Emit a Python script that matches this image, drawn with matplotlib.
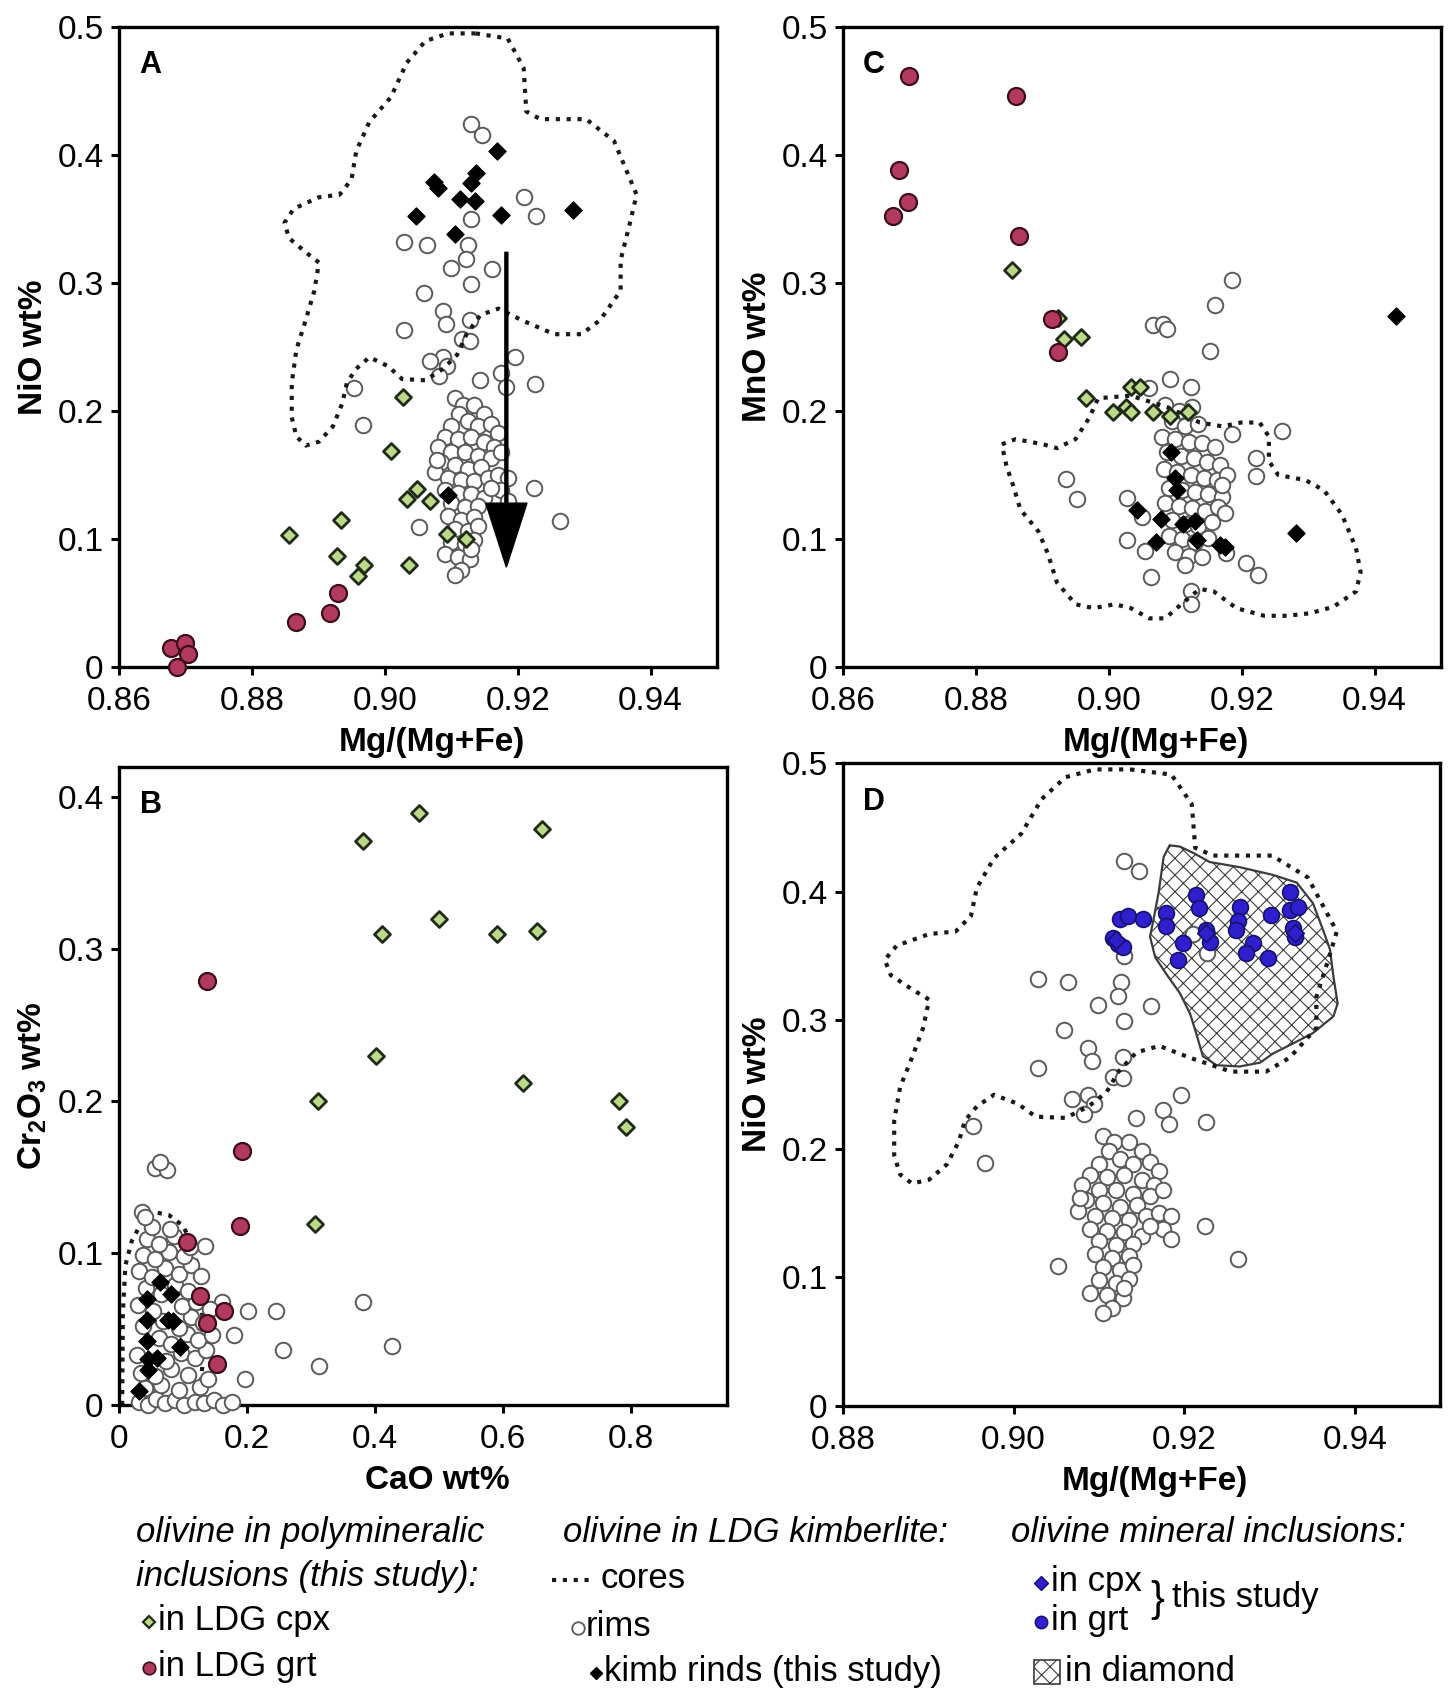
import matplotlib.pyplot as plt
from matplotlib.patches import Polygon, Rectangle
from matplotlib.lines import Line2D

plt.rcParams['font.family'] = ['Liberation Sans', 'DejaVu Sans']
plt.rcParams['mathtext.fontset'] = 'custom'
plt.rcParams['mathtext.rm'] = 'Liberation Sans'
plt.rcParams['mathtext.bf'] = 'Liberation Sans:bold'
plt.rcParams['hatch.linewidth'] = 0.8

# ---------------- data ----------------
# LDG kimberlite olivine rims: Mg# and NiO (panels A and D)
rim_mg = [0.9130, 0.9147, 0.9210, 0.9227, 0.9130, 0.9029, 0.9064, 0.9126, 0.9122, 0.9099,
          0.9161, 0.9130, 0.9059, 0.9087, 0.9092, 0.9128, 0.9029, 0.9116, 0.9128, 0.9087,
          0.9068, 0.9094, 0.9082, 0.9144, 0.9196, 0.9175, 0.9182, 0.9226, 0.8953, 0.8967,
          0.9225, 0.9263, 0.9052,
          0.9105, 0.9118, 0.9112, 0.9135, 0.9150, 0.9125, 0.9100, 0.9140, 0.9160, 0.9170,
          0.9090, 0.9110, 0.9130, 0.9150, 0.9165, 0.9080, 0.9100, 0.9120, 0.9140, 0.9160,
          0.9175, 0.9085, 0.9105, 0.9125, 0.9145, 0.9075, 0.9095, 0.9115, 0.9135, 0.9155,
          0.9170, 0.9185, 0.9090, 0.9110, 0.9130, 0.9150, 0.9175, 0.9185, 0.9100, 0.9120,
          0.9140, 0.9095, 0.9115, 0.9135, 0.9105, 0.9125, 0.9140, 0.9100, 0.9120, 0.9135,
          0.9090, 0.9110, 0.9128, 0.9115, 0.9105, 0.9130, 0.9078, 0.9160]
rim_nio = [0.424, 0.416, 0.367, 0.352, 0.350, 0.332, 0.330, 0.330, 0.319, 0.312,
           0.311, 0.299, 0.292, 0.278, 0.268, 0.271, 0.263, 0.256, 0.255, 0.242,
           0.239, 0.235, 0.227, 0.224, 0.242, 0.230, 0.219, 0.221, 0.218, 0.189,
           0.140, 0.114, 0.109,
           0.210, 0.205, 0.198, 0.205, 0.198, 0.192, 0.188, 0.188, 0.190, 0.183,
           0.180, 0.178, 0.180, 0.176, 0.172, 0.172, 0.168, 0.168, 0.165, 0.163,
           0.168, 0.160, 0.158, 0.155, 0.156, 0.152, 0.148, 0.146, 0.145, 0.148,
           0.150, 0.148, 0.138, 0.136, 0.135, 0.132, 0.138, 0.130, 0.128, 0.125,
           0.126, 0.118, 0.115, 0.117, 0.108, 0.106, 0.110, 0.098, 0.096, 0.099,
           0.088, 0.086, 0.084, 0.076, 0.072, 0.092, 0.162, 0.140]

# rims: Mg# and MnO (panel C)
rim_mg_c = [0.9185, 0.9160, 0.9067, 0.9081, 0.9087, 0.9152, 0.9092, 0.9123, 0.9061, 0.9261,
            0.9185, 0.9222, 0.9222, 0.8936, 0.8952, 0.9027, 0.9050, 0.9027, 0.9054, 0.9064,
            0.9207, 0.9225, 0.9123, 0.9123, 0.9176,
            0.9085, 0.9105, 0.9125, 0.9095, 0.9115, 0.9135, 0.9080, 0.9100, 0.9120, 0.9140,
            0.9160, 0.9088, 0.9108, 0.9128, 0.9148, 0.9168, 0.9083, 0.9103, 0.9123, 0.9143,
            0.9163, 0.9178, 0.9090, 0.9110, 0.9130, 0.9150, 0.9170, 0.9085, 0.9105, 0.9125,
            0.9145, 0.9165, 0.9095, 0.9115, 0.9135, 0.9155, 0.9090, 0.9110, 0.9130, 0.9150,
            0.9100, 0.9120, 0.9140, 0.9115, 0.9175, 0.9170]
rim_mno = [0.302, 0.283, 0.267, 0.268, 0.264, 0.247, 0.225, 0.219, 0.218, 0.184,
           0.182, 0.163, 0.149, 0.147, 0.131, 0.132, 0.117, 0.099, 0.091, 0.070,
           0.081, 0.072, 0.059, 0.049, 0.089,
           0.205, 0.200, 0.203, 0.192, 0.188, 0.190, 0.180, 0.178, 0.176, 0.175,
           0.172, 0.168, 0.165, 0.163, 0.160, 0.158, 0.155, 0.152, 0.150, 0.148,
           0.146, 0.150, 0.140, 0.138, 0.137, 0.135, 0.133, 0.128, 0.126, 0.124,
           0.122, 0.125, 0.115, 0.112, 0.110, 0.113, 0.102, 0.100, 0.098, 0.101,
           0.090, 0.087, 0.086, 0.080, 0.120, 0.142]

# rims: CaO and Cr2O3 (panel B)
rim_cao = [0.056, 0.075, 0.064, 0.036, 0.135, 0.202, 0.246, 0.257, 0.197, 0.179, 0.161, 0.381, 0.427, 0.312,
           0.032, 0.046, 0.058, 0.072, 0.088, 0.101, 0.118, 0.133, 0.148, 0.163, 0.176,
           0.041, 0.066, 0.094, 0.127,
           0.034, 0.057, 0.082, 0.108, 0.139,
           0.028, 0.074, 0.097, 0.118, 0.136,
           0.062, 0.081, 0.106, 0.124, 0.146,
           0.037, 0.068, 0.093, 0.113, 0.131,
           0.029, 0.053, 0.099, 0.121, 0.142,
           0.042, 0.066, 0.088, 0.108,
           0.031, 0.052, 0.072, 0.094, 0.113, 0.128,
           0.037, 0.057, 0.078, 0.102,
           0.044, 0.063, 0.086, 0.111,
           0.051, 0.079, 0.040]
rim_cr = [0.156, 0.155, 0.160, 0.127, 0.105, 0.062, 0.062, 0.036, 0.017, 0.046, 0.068, 0.068, 0.039, 0.026,
          0.002, 0.000, 0.004, 0.001, 0.003, 0.000, 0.002, 0.001, 0.003, 0.000, 0.002,
          0.011, 0.013, 0.010, 0.012,
          0.021, 0.019, 0.024, 0.020, 0.017,
          0.033, 0.029, 0.034, 0.031, 0.036,
          0.044, 0.040, 0.047, 0.043, 0.046,
          0.052, 0.055, 0.051, 0.058, 0.054,
          0.066, 0.062, 0.065, 0.068, 0.063,
          0.077, 0.073, 0.079, 0.075,
          0.088, 0.084, 0.090, 0.086, 0.092, 0.085,
          0.099, 0.096, 0.101, 0.098,
          0.109, 0.106, 0.111, 0.104,
          0.117, 0.116, 0.124]

# olivine in LDG cpx (green diamonds)
cpx_mg_a = [0.8856, 0.8934, 0.8928, 0.8968, 0.8960, 0.9009, 0.9028, 0.9033, 0.9049, 0.9068, 0.9036, 0.9094, 0.9122]
cpx_nio = [0.103, 0.115, 0.087, 0.080, 0.071, 0.169, 0.211, 0.131, 0.139, 0.130, 0.080, 0.104, 0.100]
cpx_mg_c = [0.8854, 0.8923, 0.8932, 0.8958, 0.8966, 0.9007, 0.9026, 0.9033, 0.9047, 0.9034, 0.9066, 0.9092, 0.9119]
cpx_mno = [0.310, 0.273, 0.256, 0.258, 0.210, 0.199, 0.203, 0.219, 0.219, 0.199, 0.199, 0.196, 0.199]
cpx_cao = [0.469, 0.661, 0.382, 0.500, 0.411, 0.590, 0.653, 0.401, 0.632, 0.311, 0.781, 0.792, 0.307]
cpx_cr = [0.390, 0.379, 0.371, 0.320, 0.310, 0.310, 0.312, 0.230, 0.212, 0.200, 0.200, 0.183, 0.119]

# olivine in LDG grt (red circles)
grt_mg_a = [0.8678, 0.8700, 0.8704, 0.8687, 0.8867, 0.8917, 0.8929]
grt_nio = [0.015, 0.019, 0.010, 0.000, 0.035, 0.042, 0.058]
grt_mg_c = [0.8700, 0.8861, 0.8685, 0.8698, 0.8676, 0.8865, 0.8914, 0.8923]
grt_mno = [0.462, 0.446, 0.388, 0.363, 0.352, 0.337, 0.272, 0.246]
grt_cao = [0.137, 0.192, 0.189, 0.107, 0.126, 0.164, 0.137, 0.153]
grt_cr = [0.279, 0.167, 0.118, 0.107, 0.072, 0.062, 0.054, 0.027]

# kimberlite rinds (black diamonds)
kim_mg_a = [0.9074, 0.9080, 0.9047, 0.9106, 0.9113, 0.9130, 0.9137, 0.9136, 0.9169, 0.9175, 0.9284, 0.9095]
kim_nio = [0.379, 0.374, 0.352, 0.338, 0.366, 0.378, 0.386, 0.364, 0.403, 0.353, 0.357, 0.134]
kim_mg_c = [0.9433, 0.9282, 0.9043, 0.9079, 0.9071, 0.9093, 0.9099, 0.9102, 0.9112, 0.9130, 0.9133, 0.9168, 0.9175]
kim_mno = [0.274, 0.105, 0.123, 0.116, 0.098, 0.168, 0.148, 0.138, 0.112, 0.114, 0.099, 0.095, 0.094]
kim_cao = [0.064, 0.082, 0.043, 0.043, 0.077, 0.085, 0.043, 0.095, 0.046, 0.059, 0.046, 0.032]
kim_cr = [0.081, 0.073, 0.070, 0.056, 0.056, 0.055, 0.042, 0.038, 0.030, 0.031, 0.023, 0.009]

# olivine mineral inclusions, this study (panel D)
inc_mg = [0.9117, 0.9123, 0.9128, 0.9125, 0.9134, 0.9152, 0.9179, 0.9179, 0.9199, 0.9193,
          0.9214, 0.9218, 0.9226, 0.9230, 0.9265, 0.9263, 0.9261, 0.9281, 0.9273, 0.9298,
          0.9302, 0.9324, 0.9324, 0.9334, 0.9328, 0.9330]
inc_nio = [0.364, 0.359, 0.357, 0.379, 0.381, 0.379, 0.383, 0.373, 0.360, 0.347,
           0.397, 0.387, 0.370, 0.361, 0.388, 0.377, 0.370, 0.360, 0.352, 0.348,
           0.382, 0.400, 0.386, 0.388, 0.372, 0.365]
inc_cpx_mg = [0.9120, 0.9226, 0.9330]
inc_cpx_nio = [0.362, 0.368, 0.368]

# olivine inclusions in diamond (field outline)
dia_mg = [0.9183, 0.9195, 0.9211, 0.9230, 0.9265, 0.9304, 0.9332, 0.9351, 0.9363, 0.9371,
          0.9375, 0.9380, 0.9375, 0.9351, 0.9328, 0.9304, 0.9289, 0.9265, 0.9238, 0.9222,
          0.9214, 0.9207, 0.9195, 0.9179, 0.9166, 0.9160, 0.9164, 0.9170, 0.9176]
dia_nio = [0.436, 0.435, 0.430, 0.423, 0.419, 0.413, 0.407, 0.391, 0.370, 0.355,
           0.334, 0.313, 0.303, 0.290, 0.282, 0.274, 0.267, 0.264, 0.265, 0.272,
           0.290, 0.305, 0.321, 0.336, 0.349, 0.365, 0.378, 0.399, 0.427]

# olivine cores field (dotted), Mg# vs NiO
core_mg = [0.9137, 0.9185, 0.9209, 0.9213, 0.9234, 0.9303, 0.9345, 0.9379, 0.9369, 0.9355,
           0.9355, 0.9324, 0.9296, 0.9255, 0.9206, 0.9171, 0.9144, 0.9123, 0.9109, 0.9088,
           0.9061, 0.9026, 0.9005, 0.8977, 0.8957, 0.8943, 0.8936, 0.8922, 0.8901, 0.8881,
           0.8867, 0.8860, 0.8860, 0.8867, 0.8881, 0.8894, 0.8901, 0.8881, 0.8856, 0.8849,
           0.8863, 0.8901, 0.8932, 0.8950, 0.8957, 0.8977, 0.9009, 0.9033, 0.9061, 0.9095, 0.9137]
core_nio = [0.495, 0.491, 0.468, 0.434, 0.428, 0.428, 0.411, 0.369, 0.347, 0.318,
            0.294, 0.271, 0.260, 0.260, 0.271, 0.280, 0.275, 0.260, 0.244, 0.233,
            0.224, 0.225, 0.235, 0.242, 0.233, 0.222, 0.206, 0.188, 0.176, 0.173,
            0.180, 0.195, 0.222, 0.248, 0.271, 0.294, 0.316, 0.324, 0.335, 0.347,
            0.358, 0.367, 0.369, 0.381, 0.403, 0.426, 0.445, 0.472, 0.489, 0.495, 0.495]

# cores field, Mg# vs MnO
core_mg_c = [0.8839, 0.8860, 0.8901, 0.8922, 0.8950, 0.8971, 0.8984, 0.9033, 0.9088, 0.9137,
             0.9171, 0.9199, 0.9227, 0.9241, 0.9241, 0.9255, 0.9296, 0.9324, 0.9351, 0.9372,
             0.9379, 0.9372, 0.9338, 0.9303, 0.9268, 0.9234, 0.9192, 0.9158, 0.9137, 0.9109,
             0.9085, 0.9061, 0.9033, 0.9009, 0.8977, 0.8950, 0.8922, 0.8908, 0.8894, 0.8867,
             0.8856, 0.8846, 0.8839]
core_mno = [0.174, 0.178, 0.174, 0.171, 0.178, 0.195, 0.210, 0.212, 0.203, 0.191,
            0.188, 0.191, 0.191, 0.180, 0.161, 0.150, 0.146, 0.138, 0.119, 0.093,
            0.074, 0.059, 0.047, 0.042, 0.040, 0.040, 0.046, 0.059, 0.061, 0.049,
            0.038, 0.038, 0.046, 0.049, 0.046, 0.049, 0.066, 0.089, 0.106, 0.123,
            0.142, 0.157, 0.174]

# cores field, CaO vs Cr2O3
core_cao = [0.005, 0.006, 0.010, 0.020, 0.035, 0.055, 0.078, 0.100, 0.115, 0.125, 0.130, 0.130, 0.125]
core_cr = [0.000, 0.060, 0.092, 0.108, 0.120, 0.127, 0.125, 0.118, 0.105, 0.088, 0.060, 0.025, 0.000]

# arrow in panel A (rim trend)
arrow_mg = 0.9183
arrow_from, arrow_to = 0.324, 0.078

# ---------------- styles ----------------
RIM = dict(marker='o', s=125, facecolors='white', edgecolors='#5a5a5a', linewidths=1.4, clip_on=False, zorder=3)
GRT = dict(marker='o', s=150, facecolors='#b23a5e', edgecolors='#3d0d1c', linewidths=1.6, clip_on=False, zorder=5)
CPX = dict(marker='D', s=66, facecolors='#bcd98a', edgecolors='#1f2b16', linewidths=2.0, clip_on=False, zorder=5)
KIM = dict(marker='D', s=75, facecolors='black', edgecolors='black', linewidths=1, clip_on=False, zorder=6)
BLUE = dict(marker='o', s=130, facecolors='#2f1fcc', edgecolors='#15126e', linewidths=1.2, clip_on=False, zorder=6)
BLUE_D = dict(marker='D', s=80, facecolors='#2f1fcc', edgecolors='#15126e', linewidths=1.2, clip_on=False, zorder=6)
DOT = dict(color='#1a1a1a', lw=3.0, linestyle=(0, (1.0, 1.6)), zorder=4)

W, H = 1450, 1692
fig = plt.figure(figsize=(W / 100, H / 100), dpi=100)


def px_axes(l, t, r, b):
    return fig.add_axes([l / W, 1 - b / H, (r - l) / W, (b - t) / H])


def style(ax, xlim, ylim, xt, xtl, yt, ytl, xlabel, ylabel, letter, hpx):
    ax.set_xlim(xlim)
    ax.set_ylim(ylim)
    ax.set_xticks(xt)
    ax.set_xticklabels(xtl)
    ax.set_yticks(yt)
    ax.set_yticklabels(ytl)
    ax.tick_params(direction='out', length=6, width=2.2, labelsize=24)
    ax.tick_params(axis='x', pad=8)
    ax.tick_params(axis='y', pad=5)
    for sp in ax.spines.values():
        sp.set_linewidth(2.4)
    ax.set_xlabel(xlabel, fontsize=24, fontweight='bold', va='center')
    ax.xaxis.set_label_coords(0.523, -75 / hpx)
    ax.set_ylabel(ylabel, fontsize=24, fontweight='bold', labelpad=6)
    ax.text(0.052, 0.94, letter, transform=ax.transAxes, fontsize=22,
            fontweight='bold', ha='center', va='center')


mg_ticks = [0.86, 0.88, 0.90, 0.92, 0.94]
mg_labels = ['0.86', '0.88', '0.90', '0.92', '0.94']
y_ticks = [0, 0.1, 0.2, 0.3, 0.4, 0.5]
y_labels = ['0', '0.1', '0.2', '0.3', '0.4', '0.5']

# ---- A ----
axA = px_axes(119, 27, 717, 667)
axA.plot(core_mg, core_nio, **DOT)
axA.scatter(rim_mg, rim_nio, **RIM)
axA.scatter(cpx_mg_a, cpx_nio, **CPX)
axA.scatter(grt_mg_a, grt_nio, **GRT)
axA.scatter(kim_mg_a, kim_nio, **KIM)
axA.arrow(arrow_mg, arrow_from, 0, arrow_to - arrow_from, width=0.00045,
          head_width=0.0062, head_length=0.05, length_includes_head=True,
          color='black', zorder=7)
style(axA, (0.86, 0.95), (0, 0.5), mg_ticks, mg_labels, y_ticks, y_labels,
      'Mg/(Mg+Fe)', 'NiO wt%', 'A', 640)

# ---- C ----
axC = px_axes(843, 27, 1441, 667)
axC.plot(core_mg_c, core_mno, **DOT)
axC.scatter(rim_mg_c, rim_mno, **RIM)
axC.scatter(cpx_mg_c, cpx_mno, **CPX)
axC.scatter(grt_mg_c, grt_mno, **GRT)
axC.scatter(kim_mg_c, kim_mno, **KIM)
style(axC, (0.86, 0.95), (0, 0.5), mg_ticks, mg_labels, y_ticks, y_labels,
      'Mg/(Mg+Fe)', 'MnO wt%', 'C', 640)

# ---- B ----
axB = px_axes(119, 767, 727, 1405)
axB.plot(core_cao, core_cr, **dict(DOT, zorder=2))
axB.scatter(rim_cao, rim_cr, **RIM)
axB.scatter(cpx_cao, cpx_cr, **CPX)
axB.scatter(grt_cao, grt_cr, **GRT)
axB.scatter(kim_cao, kim_cr, **KIM)
style(axB, (0, 0.95), (0, 0.42), [0, 0.2, 0.4, 0.6, 0.8], ['0', '0.2', '0.4', '0.6', '0.8'],
      [0, 0.1, 0.2, 0.3, 0.4], ['0', '0.1', '0.2', '0.3', '0.4'],
      'CaO wt%', r'Cr$_\mathbf{2}$O$_\mathbf{3}$ wt%', 'B', 638)

# ---- D ----
axD = px_axes(843, 763, 1440, 1406)
axD.add_patch(Polygon(list(zip(dia_mg, dia_nio)), closed=True, facecolor='white',
                      edgecolor='#3c3c3c', hatch='xx', lw=1.6, zorder=2))
axD.plot(core_mg, core_nio, **DOT)
axD.scatter(rim_mg, rim_nio, **RIM)
axD.scatter(inc_mg, inc_nio, **BLUE)
axD.scatter(inc_cpx_mg, inc_cpx_nio, **BLUE_D)
style(axD, (0.88, 0.95), (0, 0.5), [0.88, 0.90, 0.92, 0.94], ['0.88', '0.90', '0.92', '0.94'],
      y_ticks, y_labels, 'Mg/(Mg+Fe)', 'NiO wt%', 'D', 643)


# ---------------- legend block ----------------
def ftext(x, y, s, **kw):
    kw.setdefault('fontsize', 25)
    fig.text(x / W, 1 - y / H, s, va='center', ha='left', **kw)


def fmark(x, y, **kw):
    fig.add_artist(Line2D([x / W], [1 - y / H], transform=fig.transFigure, linestyle='none', **kw))


ftext(136, 1532, 'olivine in polymineralic', style='italic')
ftext(136, 1576, 'inclusions (this study):', style='italic')
fmark(149, 1622, marker='D', markersize=6, markerfacecolor='#bcd98a', markeredgecolor='#1f2b16', markeredgewidth=1.6)
ftext(158, 1620, 'in LDG cpx')
fmark(149, 1668, marker='o', markersize=9, markerfacecolor='#b23a5e', markeredgecolor='#3d0d1c', markeredgewidth=1.2)
ftext(158, 1666, 'in LDG grt')

ftext(563, 1532, 'olivine in LDG kimberlite:', style='italic')
fig.add_artist(Line2D([552 / W, 590 / W], [1 - 1580 / H, 1 - 1580 / H], transform=fig.transFigure, **DOT))
ftext(600, 1578, 'cores')
fmark(578, 1628, marker='o', markersize=9, markerfacecolor='white', markeredgecolor='#5a5a5a', markeredgewidth=1.3)
ftext(586, 1626, 'rims')
fmark(596, 1673, marker='D', markersize=6, markerfacecolor='black', markeredgecolor='black')
ftext(604, 1671, 'kimb rinds (this study)')

ftext(1011, 1532, 'olivine mineral inclusions:', style='italic')
fmark(1041, 1583, marker='D', markersize=7, markerfacecolor='#2f1fcc', markeredgecolor='#15126e')
ftext(1051, 1581, 'in cpx')
fmark(1041, 1622, marker='o', markersize=9, markerfacecolor='#2f1fcc', markeredgecolor='#15126e')
ftext(1051, 1620, 'in grt')
ftext(1150, 1600, '}', fontsize=30)
ftext(1172, 1597, 'this study')
fig.add_artist(Rectangle((1034 / W, 1 - 1684 / H), 26 / W, 24 / H, transform=fig.transFigure,
                         facecolor='white', edgecolor='#3c3c3c', hatch='xx', lw=1.2))
ftext(1065, 1671, 'in diamond')

fig.savefig('out.png', dpi=100, facecolor='white')
